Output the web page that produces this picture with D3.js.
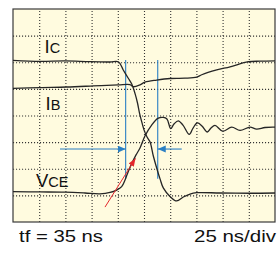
<!DOCTYPE html>
<html>
<head>
<meta charset="utf-8">
<script src="https://cdn.jsdelivr.net/npm/d3@7"></script>
<style>
html,body{margin:0;padding:0;background:#fff;}
svg{display:block;}
</style>
</head>
<body>
<script>
var W = 277, H = 257;
var padL = 13, padT = 9, plotW = 262, plotH = 213;

// time in ns (25 ns/div, 10 div), amplitude in divisions (8 div)
var xTicks = [25, 50, 75, 100, 125, 150, 175, 200, 225];
var yTicks = [1, 2, 3, 4, 5, 6, 7];

var icT = [0, 25.8, 49.6, 73.5, 92.6, 100.5, 105.2, 110, 113.3, 116.4, 118.8, 120.7, 122.8, 125, 127.9, 130.7, 133.9, 137.1, 140.3, 143.4, 149.8, 156.2, 162.5, 168.9, 175.3, 197.5, 226.1, 250];
var icV = [6.07, 6.03, 6.05, 6.02, 6.01, 6.02, 5.71, 5.40, 5.18, 4.83, 4.47, 4.09, 3.77, 3.46, 3.19, 3.01, 2.48, 2.03, 1.62, 1.28, 0.96, 0.79, 0.94, 1.05, 1.10, 1.09, 1.08, 1.09];

var ibT = [0, 25.8, 51.2, 76.6, 100.5, 111.6, 114.8, 121.2, 125.9, 137.1, 149.8, 164.1, 175.3, 180.1, 194.4, 207.1, 224.5, 235.7, 250];
var ibV = [5.02, 5.05, 5.07, 5.11, 5.15, 5.16, 5.08, 5.15, 5.25, 5.33, 5.39, 5.40, 5.44, 5.53, 5.71, 5.83, 6.02, 6.04, 6.05];

var vceT = [0, 25.8, 49.6, 68.7, 83, 92.6, 98.9, 103.7, 106.9, 110.2, 113.6, 117.4, 121.2, 125.9, 132.3, 138.6, 143.4, 146.9, 150.5, 153.6, 157.7, 162.2, 168.2, 171.8, 175.9, 180.3, 185.4, 188.9, 192.7, 200.1, 208.7, 216.6, 226.1, 232.5, 240.5, 250];
var vceV = [1.14, 1.13, 1.12, 1.09, 1.06, 1.11, 1.20, 1.33, 1.58, 1.92, 2.22, 2.52, 2.78, 3.23, 3.64, 3.90, 3.93, 3.87, 3.51, 3.68, 3.80, 3.64, 3.29, 3.53, 3.72, 3.61, 3.38, 3.53, 3.63, 3.41, 3.56, 3.44, 3.56, 3.49, 3.55, 3.56];

// markers: fall time cursors, arrows
var cursorT = [107.5, 138.1];
var cursorV = [1.62, 6.08];
var arrowV = 2.74;
var arrowLeftFrom = 44.8, arrowRightFrom = 161;
var redFrom = [87.8, 0.56], redTo = [116.9, 2.39];

var svg = d3.select('body').append('svg').attr('width', W).attr('height', H);

var x = d3.scaleLinear().domain([0, 250]).range([padL, padL + plotW]);
var y = d3.scaleLinear().domain([0, 8]).range([padT + plotH, padT]);

var defs = svg.append('defs');
defs.append('marker').attr('id', 'ablue').attr('markerUnits', 'userSpaceOnUse')
  .attr('markerWidth', 9).attr('markerHeight', 8).attr('refX', 8).attr('refY', 3.5).attr('orient', 'auto')
  .append('path').attr('d', 'M0,0 L8,3.5 L0,7 Z').attr('fill', '#2a7fc4');
defs.append('marker').attr('id', 'ared').attr('markerUnits', 'userSpaceOnUse')
  .attr('markerWidth', 9).attr('markerHeight', 7).attr('refX', 8).attr('refY', 3).attr('orient', 'auto')
  .append('path').attr('d', 'M0,0 L8,3 L0,6 Z').attr('fill', '#e3262b');

svg.append('rect').attr('x', padL).attr('y', padT).attr('width', plotW).attr('height', plotH)
  .attr('fill', '#fffbdf');

// dotted grid
var gx = svg.append('g').attr('transform', 'translate(0,' + (padT + plotH) + ')')
  .call(d3.axisBottom(x).tickValues(xTicks).tickSize(-plotH).tickFormat(''));
var gy = svg.append('g').attr('transform', 'translate(' + padL + ',0)')
  .call(d3.axisLeft(y).tickValues(yTicks).tickSize(-plotW).tickFormat(''));
[gx, gy].forEach(function(g){
  g.select('.domain').remove();
  g.selectAll('line').attr('stroke', '#333').attr('stroke-width', 1.1).attr('stroke-dasharray', '1.1,1.9');
});

svg.append('rect').attr('x', padL).attr('y', padT).attr('width', plotW).attr('height', plotH)
  .attr('fill', 'none').attr('stroke', '#3a3a3a').attr('stroke-width', 1.2);

var line = d3.line().x(function(d){return x(d[0]);}).y(function(d){return y(d[1]);})
  .curve(d3.curveCatmullRom.alpha(0.5));

function pairs(t, v){ return t.map(function(d, i){ return [d, v[i]]; }); }

// blue cursors
cursorT.forEach(function(t){
  svg.append('line').attr('x1', x(t)).attr('x2', x(t)).attr('y1', y(cursorV[0])).attr('y2', y(cursorV[1]))
    .attr('stroke', '#2a7fc4').attr('stroke-width', 1.1);
});
svg.append('line').attr('x1', x(arrowLeftFrom)).attr('x2', x(cursorT[0])).attr('y1', y(arrowV)).attr('y2', y(arrowV))
  .attr('stroke', '#2a7fc4').attr('stroke-width', 1.1).attr('marker-end', 'url(#ablue)');
svg.append('line').attr('x1', x(arrowRightFrom)).attr('x2', x(cursorT[1])).attr('y1', y(arrowV)).attr('y2', y(arrowV))
  .attr('stroke', '#2a7fc4').attr('stroke-width', 1.1).attr('marker-end', 'url(#ablue)');

[pairs(icT, icV), pairs(ibT, ibV), pairs(vceT, vceV)].forEach(function(p){
  svg.append('path').attr('d', line(p)).attr('fill', 'none').attr('stroke', '#262626')
    .attr('stroke-width', 1.3).attr('stroke-linejoin', 'round');
});

svg.append('line').attr('x1', x(redFrom[0])).attr('y1', y(redFrom[1])).attr('x2', x(redTo[0])).attr('y2', y(redTo[1]))
  .attr('stroke', '#e3262b').attr('stroke-width', 1).attr('marker-end', 'url(#ared)');

// trace labels
function label(px, py, main, sub){
  var t = svg.append('text').attr('x', px).attr('y', py)
    .attr('font-family', 'Liberation Sans, Arial, sans-serif').attr('fill', '#111');
  t.append('tspan').attr('font-size', '18.5px').text(main);
  t.append('tspan').attr('font-size', '14.5px').text(sub);
}
label(44.5, 53.3, 'I', 'C');
label(45.5, 109.5, 'I', 'B');
label(36, 187, 'V', 'CE');

svg.append('text').attr('x', 19).attr('y', 242).attr('font-family', 'Liberation Sans, Arial, sans-serif')
  .attr('font-size', '16px').attr('fill', '#111').attr('textLength', 84).attr('lengthAdjust', 'spacingAndGlyphs')
  .text('tf = 35 ns');
svg.append('text').attr('x', 194).attr('y', 242).attr('font-family', 'Liberation Sans, Arial, sans-serif')
  .attr('font-size', '16px').attr('fill', '#111').attr('textLength', 82).attr('lengthAdjust', 'spacingAndGlyphs')
  .text('25 ns/div');
</script>
</body>
</html>
